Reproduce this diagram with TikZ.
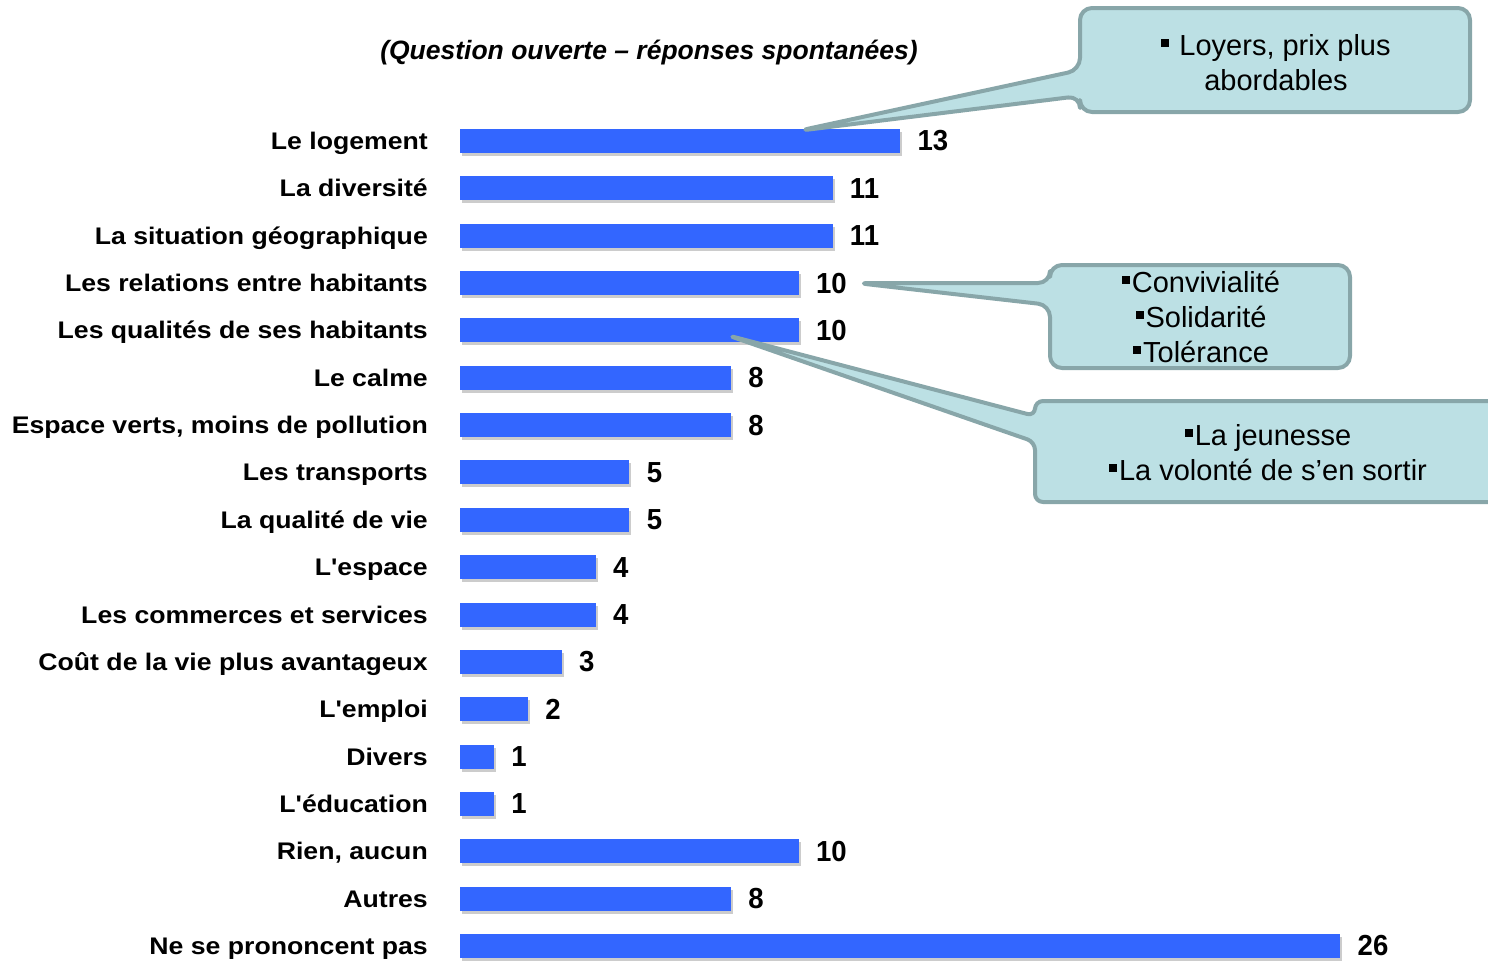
\documentclass[tikz,border=0pt]{standalone}
\usepackage{fontspec}
\setmainfont{Liberation Sans}
\newfontfamily\labelfont[FakeStretch=1.11]{Liberation Sans}
\newfontfamily\numberfont[FakeStretch=0.95]{Liberation Sans}
\usetikzlibrary{positioning, shadows}
\definecolor{barblue}{RGB}{51,102,255}
\definecolor{notefill}{RGB}{188,224,228}
\definecolor{noteline}{RGB}{136,166,169}
\newcommand{\sq}{\rule[9pt]{8pt}{8pt}\hspace{2pt}}
\newcommand{\apos}{\char"27\relax}
\tikzset{
	bar/.style = {rectangle, fill=barblue, inner sep=0pt, minimum height=24pt,
			drop shadow={shadow xshift=2pt, shadow yshift=-3pt, fill=black!50, opacity=0.4}},
	barlabel/.style = {inner sep=0pt, text height=17pt, text depth=0pt,
			font=\labelfont\bfseries\fontsize{24}{28}\selectfont},
	barvalue/.style = {inner sep=0pt, font=\numberfont\bfseries\fontsize{29}{34}\selectfont},
	bubble/.style = {fill=notefill, draw=noteline, line width=4pt, rounded corners=12pt, line join=round},
	bubbletext/.style = {align=center, inner sep=0pt, font=\fontsize{29}{35}\selectfont}
}

\begin{document}
\begin{tikzpicture}[x=1pt, y=-1pt]
	\useasboundingbox (0,0) rectangle (1488,961);
	\clip (0,0) rectangle (1488,961);
	% ====== Title ========
	\node[font=\bfseries\itshape\fontsize{26.5}{30}\selectfont] (title) at (649,53) {(Question ouverte – réponses spontanées)};
	% ====== Bars ========
	\foreach \val/\lab [count=\i] in {13/Le logement, 11/La diversité, 11/La situation géographique,
			10/Les relations entre habitants, 10/Les qualités de ses habitants, 8/Le calme,
			8/{Espace verts, moins de pollution}, 5/Les transports, 5/La qualité de vie,
			4/L\apos espace, 4/Les commerces et services, 3/Coût de la vie plus avantageux,
			2/L\apos emploi, 1/Divers, 1/L\apos éducation, 10/{Rien, aucun}, 8/Autres,
			26/Ne se prononcent pas} {
		\pgfmathsetmacro{\y}{141+(\i-1)*47.35}
		\node[bar, anchor=west, minimum width=\val*33.85pt] (bar\i) at (460,\y) {};
		\node[barvalue, right=17pt of bar\i] (val\i) {\val};
		\node[barlabel, left=32pt of bar\i] (lab\i) {\lab};
	}
	% ====== Callouts ========
	\coordinate (tip1) at ([xshift=-102pt, yshift=-2pt]bar1.north east);
	\coordinate (tip2) at ([xshift=10pt]val4.east);
	\coordinate (tip3) at ([xshift=-71pt, yshift=-5pt]bar5.east);

	\draw[bubble] (1275,8) -- (1080,8) -- (1080,70) -- (tip1) -- (1080,96) -- (1080,112)
		-- (1470,112) -- (1470,8) -- cycle;
	\draw[bubble] (1200,265) -- (1050,265) -- (1050,283) -- (tip2) -- (1050,305) -- (1050,368)
		-- (1350,368) -- (1350,265) -- cycle;
	\draw[bubble, rounded corners=8pt] (1260,401) -- (1035,401) -- (1035,416) -- (tip3) -- (1035,442)
		-- (1035,502) -- (1510,502) -- (1510,401) -- cycle;

	\node[bubbletext] (note1) at (1276,63) {\sq\ Loyers, prix plus\\abordables};
	\node[bubbletext] (note2) at (1201,317) {\sq Convivialité\\\sq Solidarité\\\sq Tolérance};
	\node[bubbletext] (note3) at (1268,453) {\sq La jeunesse\\\sq La volonté de s’en sortir};
\end{tikzpicture}
\end{document}
